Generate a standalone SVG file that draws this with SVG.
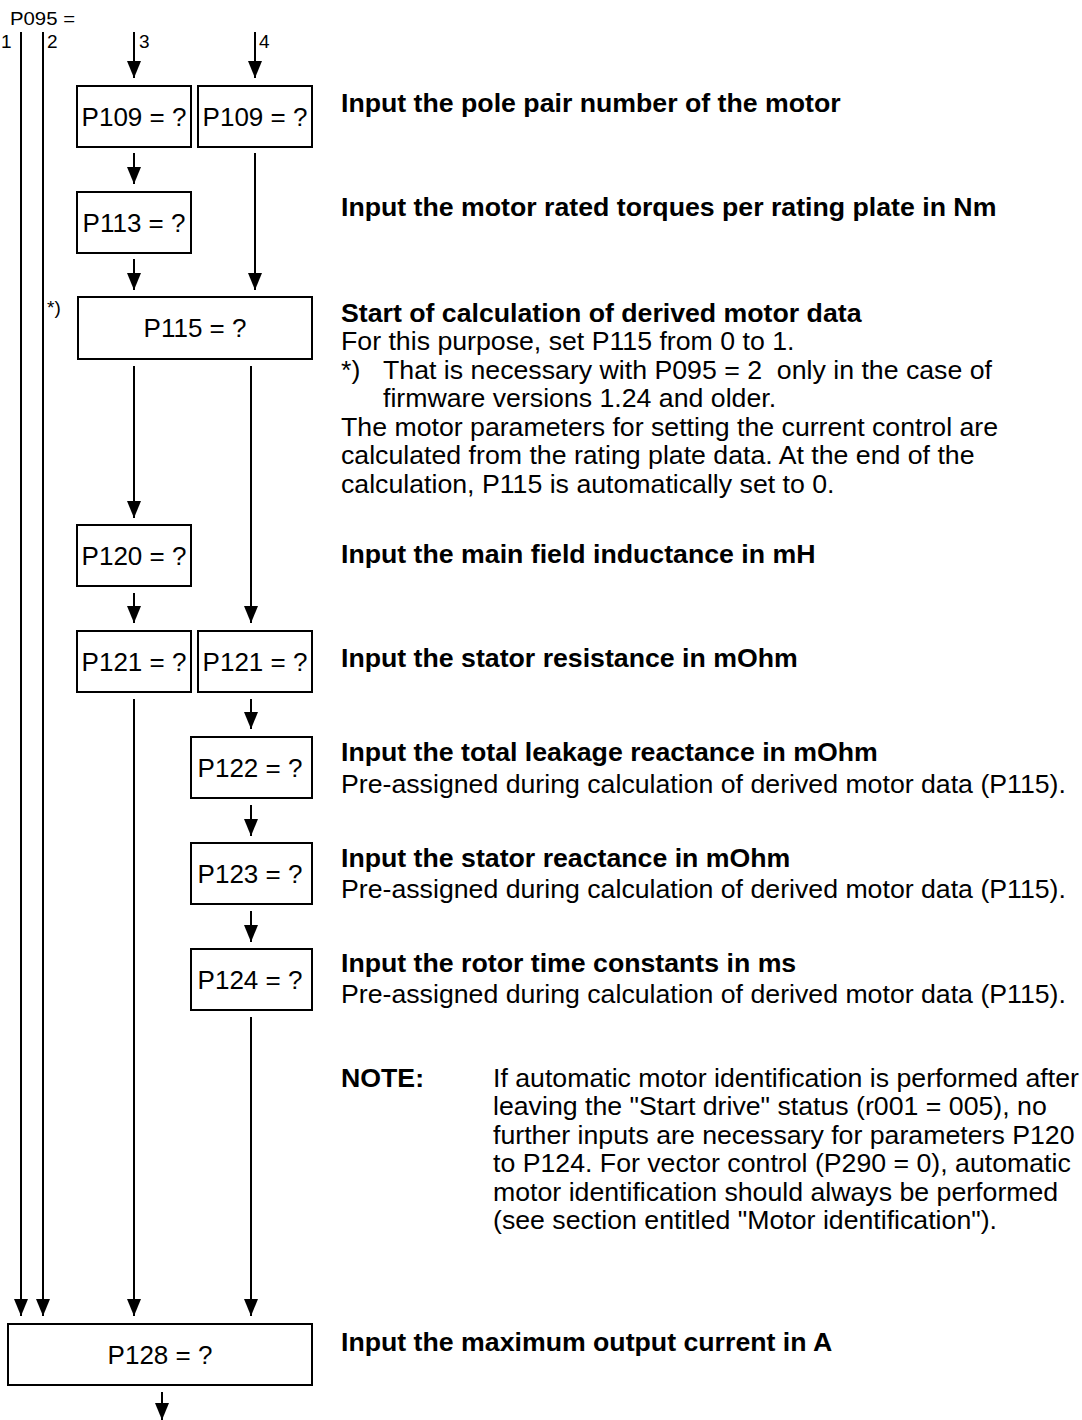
<svg xmlns="http://www.w3.org/2000/svg" width="1082" height="1420" viewBox="0 0 1082 1420">
<style>
.bx{fill:#fff;stroke:#000;stroke-width:2}
.bt{font-family:"Liberation Sans",Arial,sans-serif;font-size:26px;fill:#000;text-anchor:middle}
.sm{font-family:"Liberation Sans",Arial,sans-serif;font-size:19px;fill:#000}
.hw{font-family:"Liberation Sans",Arial,sans-serif;font-size:26.7px;font-weight:bold;fill:#000}
.tn{font-family:"Liberation Sans",Arial,sans-serif;font-size:26.7px;fill:#000}
.cn line{stroke:#000;stroke-width:2;marker-end:url(#ah)}
</style>
<defs>
<marker id="ah" markerUnits="userSpaceOnUse" markerWidth="17" markerHeight="14" viewBox="0 0 17 14" refX="17" refY="7" orient="auto">
<path d="M0,0 L17,7 L0,14 z" fill="#000"/>
</marker>
</defs>
<rect width="1082" height="1420" fill="#fff"/>

<g id="labels">
<text class="sm" x="10" y="25" textLength="65" lengthAdjust="spacingAndGlyphs">P095 =</text>
<text class="sm" x="1" y="48">1</text>
<text class="sm" x="47" y="48">2</text>
<text class="sm" x="139" y="48">3</text>
<text class="sm" x="259" y="48">4</text>
<text class="sm" x="47" y="314">*)</text>
</g>

<g class="cn" id="connectors">
<line x1="21" y1="32" x2="21" y2="1316"/>
<line x1="43" y1="32" x2="43" y2="1316"/>
<line x1="134" y1="32" x2="134" y2="78"/>
<line x1="255" y1="32" x2="255" y2="78"/>
<line x1="134" y1="153" x2="134" y2="184"/>
<line x1="255" y1="153" x2="255" y2="290"/>
<line x1="134" y1="259" x2="134" y2="290"/>
<line x1="134" y1="366" x2="134" y2="518"/>
<line x1="251" y1="366" x2="251" y2="623"/>
<line x1="134" y1="593" x2="134" y2="623"/>
<line x1="134" y1="699" x2="134" y2="1316"/>
<line x1="251" y1="699" x2="251" y2="729"/>
<line x1="251" y1="805" x2="251" y2="836"/>
<line x1="251" y1="911" x2="251" y2="942"/>
<line x1="251" y1="1017" x2="251" y2="1316"/>
<line x1="162" y1="1392" x2="162" y2="1420"/>
</g>

<g id="n-p109a"><rect class="bx" x="77" y="86" width="114" height="61"/><text class="bt" x="134" y="126">P109 = ?</text></g>
<g id="n-p109b"><rect class="bx" x="198" y="86" width="114" height="61"/><text class="bt" x="255" y="126">P109 = ?</text></g>
<g id="n-p113"><rect class="bx" x="77" y="192" width="114" height="61"/><text class="bt" x="134" y="232">P113 = ?</text></g>
<g id="n-p115"><rect class="bx" x="78" y="297" width="234" height="62"/><text class="bt" x="195" y="337">P115 = ?</text></g>
<g id="n-p120"><rect class="bx" x="77" y="525" width="114" height="61"/><text class="bt" x="134" y="565">P120 = ?</text></g>
<g id="n-p121a"><rect class="bx" x="77" y="631" width="114" height="61"/><text class="bt" x="134" y="671">P121 = ?</text></g>
<g id="n-p121b"><rect class="bx" x="198" y="631" width="114" height="61"/><text class="bt" x="255" y="671">P121 = ?</text></g>
<g id="n-p122"><rect class="bx" x="191" y="737" width="121" height="61"/><text class="bt" x="250" y="777">P122 = ?</text></g>
<g id="n-p123"><rect class="bx" x="191" y="843" width="121" height="61"/><text class="bt" x="250" y="883">P123 = ?</text></g>
<g id="n-p124"><rect class="bx" x="191" y="949" width="121" height="61"/><text class="bt" x="250" y="989">P124 = ?</text></g>
<g id="n-p128"><rect class="bx" x="8" y="1324" width="304" height="61"/><text class="bt" x="160" y="1364">P128 = ?</text></g>

<g id="descriptions">
<text class="hw" x="341" y="112">Input the pole pair number of the motor</text>
<text class="hw" x="341" y="216">Input the motor rated torques per rating plate in Nm</text>

<text class="hw" x="341" y="322">Start of calculation of derived motor data</text>
<text class="tn" x="341" y="350">For this purpose, set P115 from 0 to 1.</text>
<text class="tn" x="341" y="379">*)</text>
<text class="tn" x="383" y="379">That is necessary with P095 = 2&#160; only in the case of</text>
<text class="tn" x="383" y="407">firmware versions 1.24 and older.</text>
<text class="tn" x="341" y="436">The motor parameters for setting the current control are</text>
<text class="tn" x="341" y="464">calculated from the rating plate data. At the end of the</text>
<text class="tn" x="341" y="493">calculation, P115 is automatically set to 0.</text>

<text class="hw" x="341" y="563">Input the main field inductance in mH</text>
<text class="hw" x="341" y="667">Input the stator resistance in mOhm</text>

<text class="hw" x="341" y="761">Input the total leakage reactance in mOhm</text>
<text class="tn" x="341" y="793">Pre-assigned during calculation of derived motor data (P115).</text>
<text class="hw" x="341" y="867">Input the stator reactance in mOhm</text>
<text class="tn" x="341" y="898">Pre-assigned during calculation of derived motor data (P115).</text>
<text class="hw" x="341" y="972">Input the rotor time constants in ms</text>
<text class="tn" x="341" y="1003">Pre-assigned during calculation of derived motor data (P115).</text>

<text class="hw" x="341" y="1087">NOTE:</text>
<text class="tn" x="493" y="1087">If automatic motor identification is performed after</text>
<text class="tn" x="493" y="1115">leaving the "Start drive" status (r001 = 005), no</text>
<text class="tn" x="493" y="1144">further inputs are necessary for parameters P120</text>
<text class="tn" x="493" y="1172">to P124. For vector control (P290 = 0), automatic</text>
<text class="tn" x="493" y="1201">motor identification should always be performed</text>
<text class="tn" x="493" y="1229">(see section entitled "Motor identification").</text>

<text class="hw" x="341" y="1351">Input the maximum output current in A</text>
</g>
</svg>
